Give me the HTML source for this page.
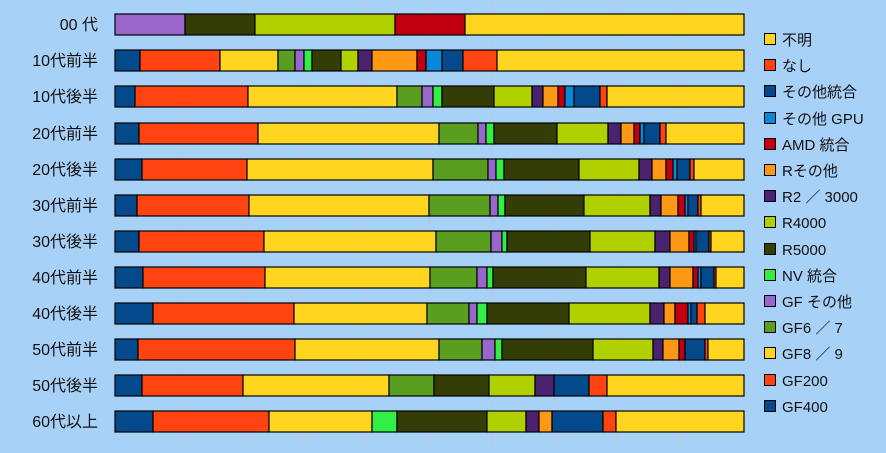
<!DOCTYPE html>
<html><head><meta charset="utf-8"><style>
html,body{margin:0;padding:0;}
body{width:886px;height:448px;overflow:hidden;background:#a8d1f8;}
svg text{font-family:"Liberation Sans","Noto Sans CJK JP",sans-serif;fill:#111;}
</style></head><body>
<svg width="886" height="448" xmlns="http://www.w3.org/2000/svg">
<rect width="886" height="448" fill="#a8d1f8"/>
<g stroke="#c0c8d0" stroke-width="1" opacity="0.7">
<line x1="178" y1="0" x2="178" y2="448"/><line x1="241" y1="0" x2="241" y2="448"/><line x1="304" y1="0" x2="304" y2="448"/><line x1="367" y1="0" x2="367" y2="448"/><line x1="430" y1="0" x2="430" y2="448"/><line x1="492" y1="0" x2="492" y2="448"/><line x1="555" y1="0" x2="555" y2="448"/><line x1="618" y1="0" x2="618" y2="448"/><line x1="681" y1="0" x2="681" y2="448"/>
</g>
<g stroke="#000" stroke-width="1.2">
<!-- row0 y=14 -->
<rect x="115" y="14" width="70" height="21" fill="#9966cc"/><rect x="185" y="14" width="70" height="21" fill="#333d05"/><rect x="255" y="14" width="140" height="21" fill="#b0d000"/><rect x="395" y="14" width="70" height="21" fill="#c00010"/><rect x="465" y="14" width="279" height="21" fill="#ffd520"/>
<!-- row1 y=50 -->
<rect x="115" y="50" width="25" height="21" fill="#034a8c"/><rect x="140" y="50" width="80" height="21" fill="#ff4411"/><rect x="220" y="50" width="58" height="21" fill="#ffd520"/><rect x="278" y="50" width="17" height="21" fill="#5a9e20"/><rect x="295" y="50" width="9" height="21" fill="#9966cc"/><rect x="304" y="50" width="8" height="21" fill="#33ee44"/><rect x="312" y="50" width="29" height="21" fill="#333d05"/><rect x="341" y="50" width="17" height="21" fill="#b0d000"/><rect x="358" y="50" width="14" height="21" fill="#4a2270"/><rect x="372" y="50" width="45" height="21" fill="#ff9915"/><rect x="417" y="50" width="9" height="21" fill="#c00010"/><rect x="426" y="50" width="16" height="21" fill="#0a88d8"/><rect x="442" y="50" width="21" height="21" fill="#034a8c"/><rect x="463" y="50" width="34" height="21" fill="#ff4411"/><rect x="497" y="50" width="247" height="21" fill="#ffd520"/>
<!-- row2 y=86 -->
<rect x="115" y="86" width="20" height="21" fill="#034a8c"/><rect x="135" y="86" width="113" height="21" fill="#ff4411"/><rect x="248" y="86" width="149" height="21" fill="#ffd520"/><rect x="397" y="86" width="25" height="21" fill="#5a9e20"/><rect x="422" y="86" width="11" height="21" fill="#9966cc"/><rect x="433" y="86" width="9" height="21" fill="#33ee44"/><rect x="442" y="86" width="52" height="21" fill="#333d05"/><rect x="494" y="86" width="38" height="21" fill="#b0d000"/><rect x="532" y="86" width="11" height="21" fill="#4a2270"/><rect x="543" y="86" width="15" height="21" fill="#ff9915"/><rect x="558" y="86" width="7" height="21" fill="#c00010"/><rect x="565" y="86" width="9" height="21" fill="#0a88d8"/><rect x="574" y="86" width="26" height="21" fill="#034a8c"/><rect x="600" y="86" width="7" height="21" fill="#ff4411"/><rect x="607" y="86" width="137" height="21" fill="#ffd520"/>
<!-- row3 y=123 -->
<rect x="115" y="123" width="24" height="21" fill="#034a8c"/><rect x="139" y="123" width="119" height="21" fill="#ff4411"/><rect x="258" y="123" width="181" height="21" fill="#ffd520"/><rect x="439" y="123" width="39" height="21" fill="#5a9e20"/><rect x="478" y="123" width="8" height="21" fill="#9966cc"/><rect x="486" y="123" width="8" height="21" fill="#33ee44"/><rect x="494" y="123" width="63" height="21" fill="#333d05"/><rect x="557" y="123" width="51" height="21" fill="#b0d000"/><rect x="608" y="123" width="13" height="21" fill="#4a2270"/><rect x="621" y="123" width="13" height="21" fill="#ff9915"/><rect x="634" y="123" width="6" height="21" fill="#c00010"/><rect x="640" y="123" width="4" height="21" fill="#0a88d8"/><rect x="644" y="123" width="16" height="21" fill="#034a8c"/><rect x="660" y="123" width="6" height="21" fill="#ff4411"/><rect x="666" y="123" width="78" height="21" fill="#ffd520"/>
<!-- row4 y=159 -->
<rect x="115" y="159" width="27" height="21" fill="#034a8c"/><rect x="142" y="159" width="105" height="21" fill="#ff4411"/><rect x="247" y="159" width="186" height="21" fill="#ffd520"/><rect x="433" y="159" width="55" height="21" fill="#5a9e20"/><rect x="488" y="159" width="8" height="21" fill="#9966cc"/><rect x="496" y="159" width="8" height="21" fill="#33ee44"/><rect x="504" y="159" width="75" height="21" fill="#333d05"/><rect x="579" y="159" width="60" height="21" fill="#b0d000"/><rect x="639" y="159" width="13" height="21" fill="#4a2270"/><rect x="652" y="159" width="14" height="21" fill="#ff9915"/><rect x="666" y="159" width="7" height="21" fill="#c00010"/><rect x="673" y="159" width="4" height="21" fill="#0a88d8"/><rect x="677" y="159" width="13" height="21" fill="#034a8c"/><rect x="690" y="159" width="4" height="21" fill="#ff4411"/><rect x="694" y="159" width="50" height="21" fill="#ffd520"/>
<!-- row5 y=195 -->
<rect x="115" y="195" width="22" height="21" fill="#034a8c"/><rect x="137" y="195" width="112" height="21" fill="#ff4411"/><rect x="249" y="195" width="180" height="21" fill="#ffd520"/><rect x="429" y="195" width="61" height="21" fill="#5a9e20"/><rect x="490" y="195" width="8" height="21" fill="#9966cc"/><rect x="498" y="195" width="7" height="21" fill="#33ee44"/><rect x="505" y="195" width="79" height="21" fill="#333d05"/><rect x="584" y="195" width="66" height="21" fill="#b0d000"/><rect x="650" y="195" width="11" height="21" fill="#4a2270"/><rect x="661" y="195" width="17" height="21" fill="#ff9915"/><rect x="678" y="195" width="7" height="21" fill="#c00010"/><rect x="685" y="195" width="3" height="21" fill="#0a88d8"/><rect x="688" y="195" width="10" height="21" fill="#034a8c"/><rect x="698" y="195" width="3" height="21" fill="#ff4411"/><rect x="701" y="195" width="43" height="21" fill="#ffd520"/>
<!-- row6 y=231 -->
<rect x="115" y="231" width="24" height="21" fill="#034a8c"/><rect x="139" y="231" width="125" height="21" fill="#ff4411"/><rect x="264" y="231" width="172" height="21" fill="#ffd520"/><rect x="436" y="231" width="55" height="21" fill="#5a9e20"/><rect x="491" y="231" width="11" height="21" fill="#9966cc"/><rect x="502" y="231" width="5" height="21" fill="#33ee44"/><rect x="507" y="231" width="83" height="21" fill="#333d05"/><rect x="590" y="231" width="65" height="21" fill="#b0d000"/><rect x="655" y="231" width="15" height="21" fill="#4a2270"/><rect x="670" y="231" width="19" height="21" fill="#ff9915"/><rect x="689" y="231" width="5" height="21" fill="#c00010"/><rect x="694" y="231" width="2" height="21" fill="#0a88d8"/><rect x="696" y="231" width="13" height="21" fill="#034a8c"/><rect x="709" y="231" width="2" height="21" fill="#ff4411"/><rect x="711" y="231" width="33" height="21" fill="#ffd520"/>
<!-- row7 y=267 -->
<rect x="115" y="267" width="28" height="21" fill="#034a8c"/><rect x="143" y="267" width="122" height="21" fill="#ff4411"/><rect x="265" y="267" width="165" height="21" fill="#ffd520"/><rect x="430" y="267" width="47" height="21" fill="#5a9e20"/><rect x="477" y="267" width="10" height="21" fill="#9966cc"/><rect x="487" y="267" width="6" height="21" fill="#33ee44"/><rect x="493" y="267" width="93" height="21" fill="#333d05"/><rect x="586" y="267" width="73" height="21" fill="#b0d000"/><rect x="659" y="267" width="11" height="21" fill="#4a2270"/><rect x="670" y="267" width="23" height="21" fill="#ff9915"/><rect x="693" y="267" width="5" height="21" fill="#c00010"/><rect x="698" y="267" width="3" height="21" fill="#0a88d8"/><rect x="701" y="267" width="13" height="21" fill="#034a8c"/><rect x="714" y="267" width="2" height="21" fill="#ff4411"/><rect x="716" y="267" width="28" height="21" fill="#ffd520"/>
<!-- row8 y=303 -->
<rect x="115" y="303" width="38" height="21" fill="#034a8c"/><rect x="153" y="303" width="141" height="21" fill="#ff4411"/><rect x="294" y="303" width="133" height="21" fill="#ffd520"/><rect x="427" y="303" width="42" height="21" fill="#5a9e20"/><rect x="469" y="303" width="8" height="21" fill="#9966cc"/><rect x="477" y="303" width="10" height="21" fill="#33ee44"/><rect x="487" y="303" width="82" height="21" fill="#333d05"/><rect x="569" y="303" width="81" height="21" fill="#b0d000"/><rect x="650" y="303" width="14" height="21" fill="#4a2270"/><rect x="664" y="303" width="11" height="21" fill="#ff9915"/><rect x="675" y="303" width="13" height="21" fill="#c00010"/><rect x="688" y="303" width="3" height="21" fill="#0a88d8"/><rect x="691" y="303" width="6" height="21" fill="#034a8c"/><rect x="697" y="303" width="8" height="21" fill="#ff4411"/><rect x="705" y="303" width="39" height="21" fill="#ffd520"/>
<!-- row9 y=339 -->
<rect x="115" y="339" width="23" height="21" fill="#034a8c"/><rect x="138" y="339" width="157" height="21" fill="#ff4411"/><rect x="295" y="339" width="144" height="21" fill="#ffd520"/><rect x="439" y="339" width="43" height="21" fill="#5a9e20"/><rect x="482" y="339" width="13" height="21" fill="#9966cc"/><rect x="495" y="339" width="7" height="21" fill="#33ee44"/><rect x="502" y="339" width="91" height="21" fill="#333d05"/><rect x="593" y="339" width="60" height="21" fill="#b0d000"/><rect x="653" y="339" width="10" height="21" fill="#4a2270"/><rect x="663" y="339" width="16" height="21" fill="#ff9915"/><rect x="679" y="339" width="6" height="21" fill="#c00010"/><rect x="685" y="339" width="20" height="21" fill="#034a8c"/><rect x="705" y="339" width="3" height="21" fill="#ff4411"/><rect x="708" y="339" width="36" height="21" fill="#ffd520"/>
<!-- row10 y=375 -->
<rect x="115" y="375" width="27" height="21" fill="#034a8c"/><rect x="142" y="375" width="101" height="21" fill="#ff4411"/><rect x="243" y="375" width="146" height="21" fill="#ffd520"/><rect x="389" y="375" width="45" height="21" fill="#5a9e20"/><rect x="434" y="375" width="55" height="21" fill="#333d05"/><rect x="489" y="375" width="46" height="21" fill="#b0d000"/><rect x="535" y="375" width="19" height="21" fill="#4a2270"/><rect x="554" y="375" width="35" height="21" fill="#034a8c"/><rect x="589" y="375" width="18" height="21" fill="#ff4411"/><rect x="607" y="375" width="137" height="21" fill="#ffd520"/>
<!-- row11 y=411 -->
<rect x="115" y="411" width="38" height="21" fill="#034a8c"/><rect x="153" y="411" width="116" height="21" fill="#ff4411"/><rect x="269" y="411" width="103" height="21" fill="#ffd520"/><rect x="372" y="411" width="25" height="21" fill="#33ee44"/><rect x="397" y="411" width="90" height="21" fill="#333d05"/><rect x="487" y="411" width="39" height="21" fill="#b0d000"/><rect x="526" y="411" width="13" height="21" fill="#4a2270"/><rect x="539" y="411" width="13" height="21" fill="#ff9915"/><rect x="552" y="411" width="51" height="21" fill="#034a8c"/><rect x="603" y="411" width="13" height="21" fill="#ff4411"/><rect x="616" y="411" width="128" height="21" fill="#ffd520"/>
</g>
<g font-size="16" text-anchor="end">
<text x="98" y="30">00 代</text>
<text x="98" y="66">10代前半</text>
<text x="98" y="102">10代後半</text>
<text x="98" y="139">20代前半</text>
<text x="98" y="175">20代後半</text>
<text x="98" y="211">30代前半</text>
<text x="98" y="247">30代後半</text>
<text x="98" y="283">40代前半</text>
<text x="98" y="319">40代後半</text>
<text x="98" y="355">50代前半</text>
<text x="98" y="391">50代後半</text>
<text x="98" y="427">60代以上</text>
</g>
<g stroke="#000" stroke-width="1">
<rect x="764.5" y="33.5" width="11" height="11" fill="#ffd520"/>
<rect x="764.5" y="59.5" width="11" height="11" fill="#ff4411"/>
<rect x="764.5" y="85.5" width="11" height="11" fill="#034a8c"/>
<rect x="764.5" y="112.5" width="11" height="11" fill="#0a88d8"/>
<rect x="764.5" y="138.5" width="11" height="11" fill="#c00010"/>
<rect x="764.5" y="164.5" width="11" height="11" fill="#ff9915"/>
<rect x="764.5" y="190.5" width="11" height="11" fill="#4a2270"/>
<rect x="764.5" y="216.5" width="11" height="11" fill="#b0d000"/>
<rect x="764.5" y="243.5" width="11" height="11" fill="#333d05"/>
<rect x="764.5" y="269.5" width="11" height="11" fill="#33ee44"/>
<rect x="764.5" y="295.5" width="11" height="11" fill="#9966cc"/>
<rect x="764.5" y="321.5" width="11" height="11" fill="#5a9e20"/>
<rect x="764.5" y="347.5" width="11" height="11" fill="#ffd520"/>
<rect x="764.5" y="374.5" width="11" height="11" fill="#ff4411"/>
<rect x="764.5" y="400.5" width="11" height="11" fill="#034a8c"/>
</g>
<g font-size="15">
<text x="782" y="45">不明</text>
<text x="782" y="71">なし</text>
<text x="782" y="97">その他統合</text>
<text x="782" y="124">その他 GPU</text>
<text x="782" y="150">AMD 統合</text>
<text x="782" y="176">Rその他</text>
<text x="782" y="202">R2 ／ 3000</text>
<text x="782" y="228">R4000</text>
<text x="782" y="255">R5000</text>
<text x="782" y="281">NV 統合</text>
<text x="782" y="307">GF その他</text>
<text x="782" y="333">GF6 ／ 7</text>
<text x="782" y="359">GF8 ／ 9</text>
<text x="782" y="386">GF200</text>
<text x="782" y="412">GF400</text>
</g>
</svg>
</body></html>
